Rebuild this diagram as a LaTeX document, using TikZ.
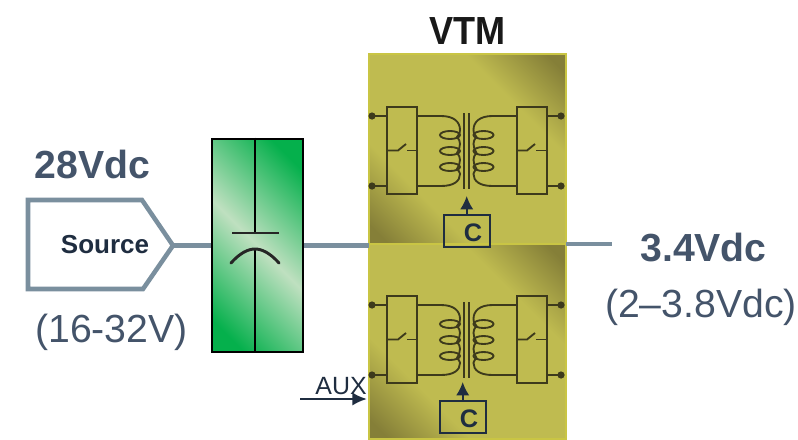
\documentclass[tikz,border=0pt]{standalone}
\usepackage{fontspec}
\usetikzlibrary{arrows.meta}
\setmainfont{Liberation Sans}
\definecolor{wirecol}{HTML}{7A8F9E}
\definecolor{labelcol}{HTML}{44546A}
\definecolor{inkcol}{HTML}{1F2D40}
\definecolor{cellcol}{HTML}{3D3A1C}
\definecolor{panelbase}{HTML}{BFBB50}
\definecolor{paneldark}{HTML}{857F38}
\definecolor{capgreen}{HTML}{05B04C}
\definecolor{cappale}{HTML}{BFE0C0}
\pgfdeclarehorizontalshading{panelband}{100bp}{color(0bp)=(paneldark); color(18bp)=(paneldark); color(33bp)=(panelbase); color(67bp)=(panelbase); color(82bp)=(paneldark); color(100bp)=(paneldark)}
\pgfdeclarehorizontalshading{capband}{100bp}{color(0bp)=(capgreen); color(22bp)=(capgreen); color(50bp)=(cappale); color(78bp)=(capgreen); color(100bp)=(capgreen)}
\tikzset{
  wire/.style={wirecol,line width=3.6pt},
  cell/.style={cellcol,line width=1.4pt},
  cellbox/.style={cellcol,line width=1.7pt},
  panel/.style={draw=panelbase!85!yellow,line width=1pt,shading=panelband,shading angle=45,
    minimum width=147.75pt,inner sep=0pt},
  capbox/.style={draw=black,line width=2pt,shading=capband,shading angle=45,
    minimum width=68.25pt,minimum height=159.75pt,inner sep=0pt},
  ctrlbox/.style={draw=inkcol,line width=1.6pt,minimum width=34pt,minimum height=24pt,inner sep=0pt},
  ctrlarrow/.style={-{Latex[length=10pt,width=10pt]},inkcol,line width=1.6pt},
  biglabel/.style={font=\fontsize{29.4}{29.4}\selectfont\bfseries,text=labelcol,anchor=base},
  thinlabel/.style={font=\fontsize{29.4}{29.4}\selectfont,text=labelcol,anchor=base},
}
\begin{document}
\begin{tikzpicture}[x=0.75pt,y=-0.75pt]
\useasboundingbox (0,0) rectangle (798,439);

% paineis
\node[panel,minimum height=142.5pt] (vtmtop) at (467.5,149) {};
\node[panel,minimum height=146.25pt] (vtmbot) at (467.5,341.5) {};

% celulas
\foreach \n/\y/\cx/\cy in {top/0/467/231, bot/189/463/417} {
  \begin{scope}[yshift=-\y*0.75pt]
    \draw[cellbox] (387,107) rectangle (417,194);
    \draw[cellbox] (517,107) rectangle (547,194);
    % terminais
    \foreach \yy in {116,186} {
      \fill[cellcol] (372,\yy) circle (3.6);
      \fill[cellcol] (561,\yy) circle (3.6);
      \draw[cell] (372,\yy) -- (387,\yy);
      \draw[cell] (547,\yy) -- (561,\yy);
    }
    % chaves
    \draw[cell] (387,150.5) -- (398,150.5) -- (406,144);
    \draw[cell] (407,150.5) -- (417,150.5);
    \draw[cell] (517,150.5) -- (527,150.5) -- (535,144);
    \draw[cell] (536,150.5) -- (547,150.5);
    % nucleo
    \draw[cell] (464,113) -- (464,189);
    \draw[cell] (469,113) -- (469,189);
    % bobinas
    \foreach \s/\m in {1/0, -1/933.5} {
      \begin{scope}[xshift=\m*0.75pt,xscale=\s]
        \draw[cell] (417,116) -- (441,116) .. controls (454,116) and (460,122) .. (460,130)
          .. controls (460,132) and (460,133) .. (457,137)
          .. controls (461,141) and (461,146) .. (457,153)
          .. controls (461,157) and (461,162) .. (457,169)
          .. controls (460,172) and (460,174) .. (460,174)
          .. controls (460,181) and (454,186) .. (441,186) -- (417,186);
        \foreach \yy in {135,151,167} {
          \draw[cell] (450,\yy) ellipse (10 and 4);
        }
      \end{scope}
    }
  \end{scope}
  % controle
  \node[ctrlbox] (ctrl\n) at (\cx,\cy) {};
  \node[font=\fontsize{19}{19}\selectfont\bfseries,text=inkcol] (ctrltxt\n) at (\cx+6,\cy+2) {C};
}
\coordinate (tiptop) at (466.7,196);
\coordinate (tipbot) at (462.7,382);
\draw[ctrlarrow] (ctrltop.north -| tiptop) -- (tiptop);
\draw[ctrlarrow] (ctrlbot.north -| tipbot) -- (tipbot);

% fonte
\coordinate (srctip) at (173,245.5);
\draw[wirecol,line width=3.4pt,line join=miter] (28,200) -- (142,200) -- (srctip) -- (143,289) -- (28,289) -- cycle;
\node[font=\fontsize{19.5}{19.5}\selectfont\bfseries,text=inkcol,anchor=base] (src) at (105,253) {Source};

% capacitor
\node[capbox] (cap) at (257.5,245.5) {};
\coordinate (plateup) at (255,233);
\coordinate (platedn) at (255,249);
\draw[black,line width=1.5pt] (cap.north -| plateup) -- (plateup);
\draw[black,line width=1.5pt] (platedn) -- (cap.south -| platedn);
\draw[black!85,line width=2.2pt] (232,233) -- (279,233);
\draw[black!85,line width=2.2pt,line cap=round] (231,263) .. controls (240,253) and (248,249) .. (platedn) .. controls (262,249) and (270,253) .. (279,263);

% ligacoes
\coordinate (vin) at (369,245.5);
\coordinate (vout) at (566,244);
\coordinate (voutend) at (612,244);
\draw[wire] (srctip) -- (cap.west);
\draw[wire] (cap.east) -- (vin);
\draw[wire] (vout) -- (voutend);

% aux
\coordinate (auxa) at (300,399);
\coordinate (auxb) at (367,399);
\draw[-{Latex[length=11pt,width=10pt]},inkcol,line width=2pt] (auxa) -- (auxb);
\node[font=\fontsize{18.7}{18.7}\selectfont,text=inkcol,anchor=base] (aux) at (341,394) {AUX};

% rotulos
\node[biglabel] (vsrc) at (92.5,178) {28Vdc};
\node[thinlabel] (vrange) at (111.5,342) {(16-32V)};
\node[biglabel] (vo) at (703.5,261) {3.4Vdc};
\node[thinlabel] (vorange) at (701,317) {(2--3.8Vdc)};
\node[font=\fontsize{29.4}{29.4}\selectfont\bfseries,text=black!90,anchor=base,xscale=.92] (vtm) at (467.5,44) {VTM};

\end{tikzpicture}
\end{document}
